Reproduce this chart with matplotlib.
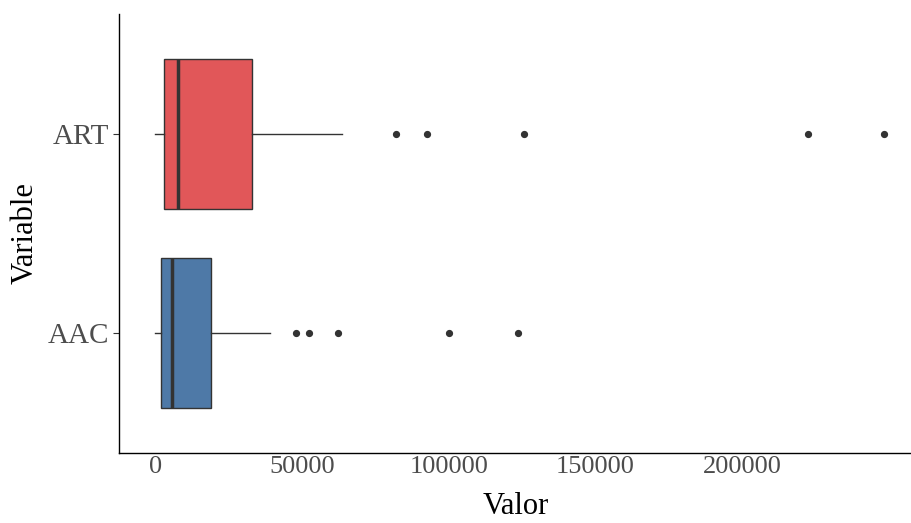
import matplotlib

matplotlib.use("Agg")
import matplotlib.pyplot as plt

# box statistics (Valor)
categories = ["AAC", "ART"]
whisker_low = [100, 100]
q1 = [2040, 3065]
median = [5900, 7950]
q3 = [19070, 33040]
whisker_high = [39300, 63800]
outliers = [
    [47900, 52500, 62400, 100100, 123600],
    [82100, 92500, 125600, 222400, 248300],
]
fill_colors = ["#4E79A7", "#E15759"]
x_ticks = [0, 50000, 100000, 150000, 200000]

plt.rcParams["font.family"] = ["Liberation Serif", "DejaVu Serif"]

fig = plt.figure(figsize=(9.12, 5.23), dpi=100)
ax = fig.add_axes([119 / 912, 70 / 523, 793 / 912, 439 / 523])

stats = []
for i, name in enumerate(categories):
    stats.append({
        "label": name,
        "whislo": whisker_low[i],
        "q1": q1[i],
        "med": median[i],
        "q3": q3[i],
        "whishi": whisker_high[i],
        "fliers": outliers[i],
    })

parts = ax.bxp(
    stats,
    positions=[1, 2],
    widths=0.75,
    vert=False,
    patch_artist=True,
    showcaps=False,
    boxprops=dict(edgecolor="#333333", linewidth=1.0),
    medianprops=dict(color="#333333", linewidth=2.5),
    whiskerprops=dict(color="#333333", linewidth=1.0),
    flierprops=dict(marker="o", markersize=4.2, markerfacecolor="#333333",
                    markeredgecolor="#333333"),
)
for patch, color in zip(parts["boxes"], fill_colors):
    patch.set_facecolor(color)

ax.set_ylim(0.4, 2.6)
ax.set_xlim(-12300, 257800)
ax.set_xticks(x_ticks)
ax.set_xticklabels([str(t) for t in x_ticks])
ax.set_yticks([1, 2])
ax.set_yticklabels(categories)

for side in ["top", "right"]:
    ax.spines[side].set_visible(False)
for side in ["left", "bottom"]:
    ax.spines[side].set_color("black")
    ax.spines[side].set_linewidth(1.0)

ax.tick_params(axis="x", length=0, pad=2, labelsize=19, labelcolor="#4d4d4d")
ax.tick_params(axis="y", length=4, width=0.8, color="#333333", pad=3,
               labelsize=21, labelcolor="#4d4d4d")
for lbl in ax.get_yticklabels():
    lbl.set_va("center_baseline")

ax.set_xlabel("Valor", fontsize=22, labelpad=10)
ax.set_ylabel("Variable", fontsize=22, labelpad=6)

fig.savefig("out.png", dpi=100)
